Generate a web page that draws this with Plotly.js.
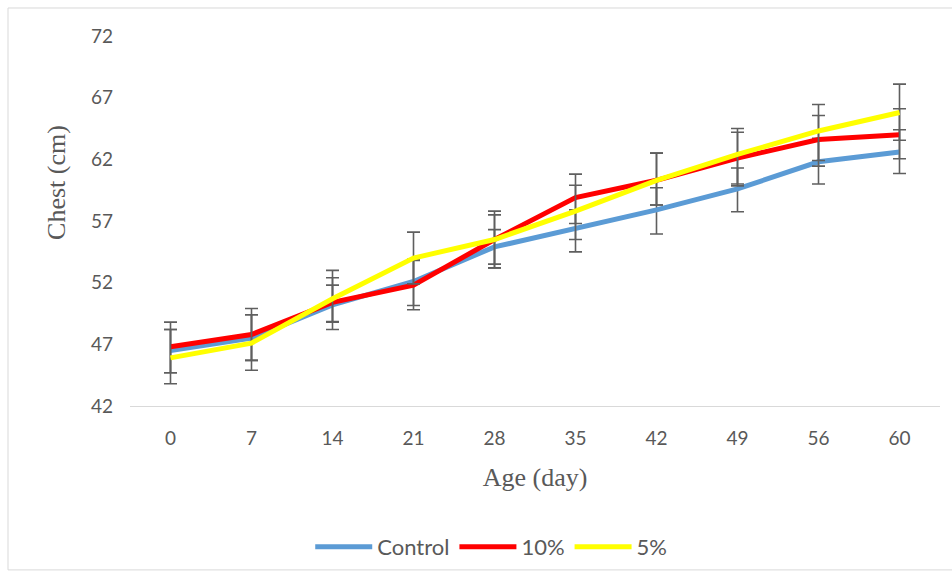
<!DOCTYPE html>
<html>
<head>
<meta charset="utf-8">
<script src="https://cdn.plot.ly/plotly-3.0.1.min.js"></script>
<style>
html,body{margin:0;padding:0;background:#fff;}
#chart{width:952px;height:574px;}
</style>
</head>
<body>
<div id="chart"></div>
<script>
// Data
const ages = ["0", "7", "14", "21", "28", "35", "42", "49", "56", "60"];

const controlValues = [46.5, 47.5, 50.2, 52.1, 54.9, 56.4, 57.9, 59.6, 61.8, 62.6];
const controlErrPlus = [1.7, 1.9, 2.2, 1.8, 1.4, 1.5, 1.8, 1.7, 1.9, 1.8];
const controlErrMinus = [1.8, 1.8, 2.0, 1.95, 1.7, 1.9, 1.95, 1.85, 1.8, 1.75];

const tenValues = [46.8, 47.8, 50.4, 51.8, 55.5, 58.9, 60.3, 62.1, 63.6, 64.0];
const tenErrPlus = [2.0, 2.1, 1.4, 2.0, 2.0, 1.9, 2.2, 2.1, 1.95, 2.1];
const tenErrMinus = [2.1, 2.1, 1.55, 2.0, 2.0, 2.1, 2.0, 2.25, 2.15, 1.95];

const fiveValues = [45.9, 47.1, 50.7, 54.0, 55.5, 57.8, 60.3, 62.4, 64.3, 65.8];
const fiveErrPlus = [2.3, 2.3, 2.3, 2.1, 2.3, 2.1, 2.2, 2.1, 2.15, 2.3];
const fiveErrMinus = [2.1, 2.2, 1.9, 2.1, 2.3, 2.3, 2.0, 2.4, 2.4, 2.25];

const seriesNames = ["Control", "10%", "5%"];
const seriesColors = ["#5B9BD5", "#FF0000", "#FFFF00"];

const yTicks = [42, 47, 52, 57, 62, 67, 72];
const xTitle = "Age (day)";
const yTitle = "Chest (cm)";

function makeTrace(name, color, values, plus, minus) {
  return {
    type: "scatter",
    mode: "lines",
    name: name,
    x: ages,
    y: values,
    line: {color: color, width: 5},
    error_y: {
      type: "data",
      symmetric: false,
      array: plus,
      arrayminus: minus,
      color: "#5f5f5f",
      thickness: 1.6,
      width: 6.5
    }
  };
}

const data = [
  makeTrace(seriesNames[0], seriesColors[0], controlValues, controlErrPlus, controlErrMinus),
  makeTrace(seriesNames[1], seriesColors[1], tenValues, tenErrPlus, tenErrMinus),
  makeTrace(seriesNames[2], seriesColors[2], fiveValues, fiveErrPlus, fiveErrMinus)
];

const tickFont = {family: "Lato, 'Open Sans', sans-serif", size: 19, color: "#595959"};
const titleFont = {family: "'Liberation Serif', 'Times New Roman', serif", size: 26, color: "#595959"};

const layout = {
  width: 952,
  height: 574,
  margin: {l: 130, r: 12, t: 36, b: 168},
  paper_bgcolor: "#ffffff",
  plot_bgcolor: "#ffffff",
  showlegend: true,
  legend: {
    orientation: "h",
    xref: "container",
    yref: "container",
    x: 0.516,
    xanchor: "center",
    y: 0.047,
    yanchor: "middle",
    font: {family: "Lato, 'Open Sans', sans-serif", size: 22, color: "#595959"},
    itemwidth: 57,
    tracegroupgap: 0,
    bgcolor: "rgba(0,0,0,0)"
  },
  xaxis: {
    type: "category",
    categoryorder: "array",
    categoryarray: ages,
    showgrid: false,
    zeroline: false,
    showline: true,
    linecolor: "#d9d9d9",
    linewidth: 1,
    ticks: "",
    ticklabelstandoff: 15,
    tickfont: tickFont,
    title: {text: xTitle, font: titleFont, standoff: 20}
  },
  yaxis: {
    range: [42, 72],
    tickvals: yTicks,
    ticktext: yTicks.map(String),
    showgrid: false,
    zeroline: false,
    showline: false,
    ticks: "",
    ticklabelstandoff: 16,
    tickfont: tickFont
  },
  annotations: [{
    text: yTitle,
    xref: "paper",
    yref: "paper",
    x: -0.0901,
    y: 0.603,
    xanchor: "center",
    yanchor: "middle",
    textangle: -90,
    showarrow: false,
    font: titleFont
  }],
  shapes: [{
    type: "rect",
    xref: "paper",
    yref: "paper",
    x0: -0.1506,
    x1: 1.03,
    y0: -0.443,
    y1: 1.0757,
    line: {color: "#d9d9d9", width: 1},
    fillcolor: "rgba(0,0,0,0)",
    layer: "below"
  }]
};

Plotly.newPlot("chart", data, layout, {displayModeBar: false, staticPlot: true});
</script>
</body>
</html>
